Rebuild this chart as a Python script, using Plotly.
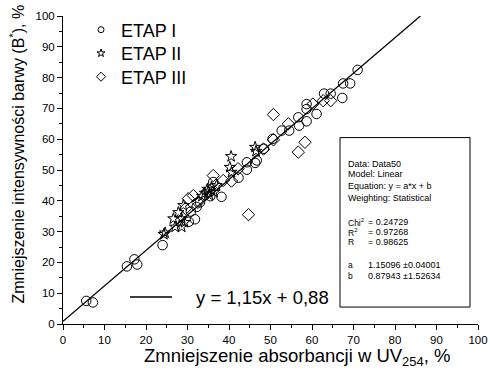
import plotly.graph_objects as go

# ETAP I (circles)
etap1_x = [5.6, 7.2, 15.4, 17.2, 17.9, 24.0, 30.3, 31.8, 30.8, 32.2, 33.0, 35.5, 38.2, 36.2,
           42.3, 44.3, 44.3, 46.3, 46.7, 48.4, 50.5, 52.7, 54.5, 56.9, 56.7, 58.7, 58.7, 58.7,
           61.1, 62.9, 64.5, 67.3, 67.5, 69.2, 71.0]
etap1_y = [7.5, 7.0, 18.7, 21.0, 19.3, 25.6, 33.2, 34.0, 36.5, 38.0, 39.5, 41.5, 41.3, 46.1,
           47.5, 50.1, 52.5, 52.3, 53.1, 56.9, 60.1, 62.8, 62.8, 64.4, 67.1, 65.8, 69.8, 71.4,
           68.2, 74.8, 74.8, 73.4, 78.1, 78.1, 82.5]

# ETAP II (stars)
etap2_x = [24.3, 24.6, 26.6, 27.0, 28.6, 28.6, 29.3, 27.8, 29.0, 33.5, 34.2, 34.8, 35.3, 35.8,
           36.4, 37.0, 35.0, 40.2, 40.5, 40.6, 46.3, 46.5]
etap2_y = [29.1, 29.6, 34.2, 31.5, 31.5, 34.2, 33.0, 36.2, 38.5, 41.5, 42.5, 43.8, 41.8, 44.5,
           42.8, 45.0, 43.0, 50.9, 54.4, 49.3, 57.4, 56.1]

# ETAP III (diamonds)
etap3_x = [29.5, 30.2, 31.4, 32.5, 36.2, 38.6, 40.6, 42.2, 44.7, 48.3, 50.7, 50.7, 54.3, 56.7,
           58.3, 60.2, 62.7, 64.5]
etap3_y = [37.5, 40.7, 41.7, 39.5, 48.2, 46.6, 46.4, 50.4, 35.5, 56.8, 59.8, 68.0, 65.0, 55.8,
           59.0, 71.4, 72.5, 72.5]

# Linear fit y = a*x + b
fit_a = 1.15096
fit_b = 0.87943
fit_x_range = [0, (100 - fit_b) / fit_a]

series_names = ["ETAP I", "ETAP II", "ETAP III"]
fit_label = "y = 1,15x + 0,88"

stats_lines = [
    "Data: Data50",
    "Model: Linear",
    "Equation: y = a*x + b",
    "Weighting: Statistical",
]
stats_labels = ["Chi<sup>2</sup>", "R<sup>2</sup>", "R", "a", "b"]
stats_values = ["= 0.24729", "= 0.97268", "= 0.98625", "1.15096 \u00b10.04001", "0.87943 \u00b11.52634"]

ticks = [0, 10, 20, 30, 40, 50, 60, 70, 80, 90, 100]

x_title = "Zmniejszenie absorbancji w UV<sub>254</sub>, %"
y_title = "Zmniejszenie intensywności barwy (B<sup>*</sup>), %"

W, H = 490, 373
ML, MR, MT, MB = 63, 12, 15, 49
PW, PH = W - ML - MR, H - MT - MB


def px(xp):
    return (xp - ML) / PW


def py(yp):
    return (H - MB - yp) / PH


font_family = "Liberation Sans, Arial, sans-serif"

fig = go.Figure()
sym = ["circle-open", "star-open", "diamond-open"]
sizes = [9.5, 8.5, 9.5]
legend_sizes = [6, 6, 7]
legend_ids = ["legend", "legend2", "legend3"]
for name, xs, ys, s, sz, lsz, lg in zip(series_names, [etap1_x, etap2_x, etap3_x],
                                        [etap1_y, etap2_y, etap3_y], sym, sizes,
                                        legend_sizes, legend_ids):
    fig.add_trace(go.Scatter(x=xs, y=ys, mode="markers", name=name, legendgroup=name,
                             showlegend=False,
                             marker=dict(symbol=s, size=sz, color="black",
                                         line=dict(color="black", width=1))))
    # legend-only entry (smaller symbol, as in the original)
    fig.add_trace(go.Scatter(x=[None], y=[None], mode="markers", name=name, legendgroup=name,
                             legend=lg, showlegend=True,
                             marker=dict(symbol=s, size=lsz, color="black",
                                         line=dict(color="black", width=1))))

fig.add_trace(go.Scatter(x=fit_x_range, y=[fit_a * v + fit_b for v in fit_x_range],
                         mode="lines", line=dict(color="black", width=1.3),
                         showlegend=False, hoverinfo="skip"))

axis_common = dict(range=[0, 100], tickvals=ticks, showline=True, linecolor="black",
                   linewidth=1, ticks="outside", ticklen=5, tickcolor="black",
                   minor=dict(dtick=5, ticks="outside", ticklen=3, tickcolor="black"),
                   showgrid=False, zeroline=False, mirror=False, automargin=False,
                   tickfont=dict(size=11.5, color="black", family=font_family))

fig.update_xaxes(**axis_common)
fig.update_yaxes(**axis_common)

# Axis titles
fig.add_annotation(xref="paper", yref="paper", x=px(297), y=py(357), text=x_title,
                   showarrow=False, xanchor="center", yanchor="middle",
                   font=dict(size=18.5, color="black", family=font_family))
fig.add_annotation(xref="paper", yref="paper", x=px(17), y=py(154), text=y_title,
                   showarrow=False, xanchor="center", yanchor="middle", textangle=-90,
                   font=dict(size=16, color="black", family=font_family))

# Legend line sample for fit
fig.add_shape(type="line", xref="paper", yref="paper", x0=px(130), x1=px(172),
              y0=py(297), y1=py(297), line=dict(color="black", width=1.5))
fig.add_annotation(xref="paper", yref="paper", x=px(194), y=py(297), text=fit_label,
                   showarrow=False, xanchor="left", yanchor="middle",
                   font=dict(size=18.5, color="black", family=font_family))

# Stats box
fig.add_shape(type="rect", xref="paper", yref="paper", x0=px(340), x1=px(470),
              y0=py(137), y1=py(307), line=dict(color="black", width=1), fillcolor="white")
line_y = [163, 174, 186, 198]
for t, yy in zip(stats_lines, line_y):
    fig.add_annotation(xref="paper", yref="paper", x=px(346), y=py(yy), text=t, showarrow=False,
                       xanchor="left", yanchor="middle",
                       font=dict(size=9, color="black", family=font_family))
stat_y = [222, 232, 242, 265, 276]
for lab, val, yy in zip(stats_labels, stats_values, stat_y):
    fig.add_annotation(xref="paper", yref="paper", x=px(346), y=py(yy), text=lab, showarrow=False,
                       xanchor="left", yanchor="middle",
                       font=dict(size=8.5, color="black", family=font_family))
    fig.add_annotation(xref="paper", yref="paper", x=px(366), y=py(yy), text=val, showarrow=False,
                       xanchor="left", yanchor="middle",
                       font=dict(size=9, color="black", family=font_family))

legend_rows = [30, 53.5, 77]
legend_cfg = {}
for lg, yy in zip(legend_ids, legend_rows):
    legend_cfg[lg] = dict(x=px(81), y=py(yy), xanchor="left", yanchor="middle",
                          font=dict(size=18, color="black", family=font_family),
                          bgcolor="rgba(0,0,0,0)", itemsizing="trace")

fig.update_layout(
    width=W, height=H,
    margin=dict(l=ML, r=MR, t=MT, b=MB),
    paper_bgcolor="white", plot_bgcolor="white",
    font=dict(family=font_family, color="black"),
    **legend_cfg,
)

fig.write_html("out.html")
